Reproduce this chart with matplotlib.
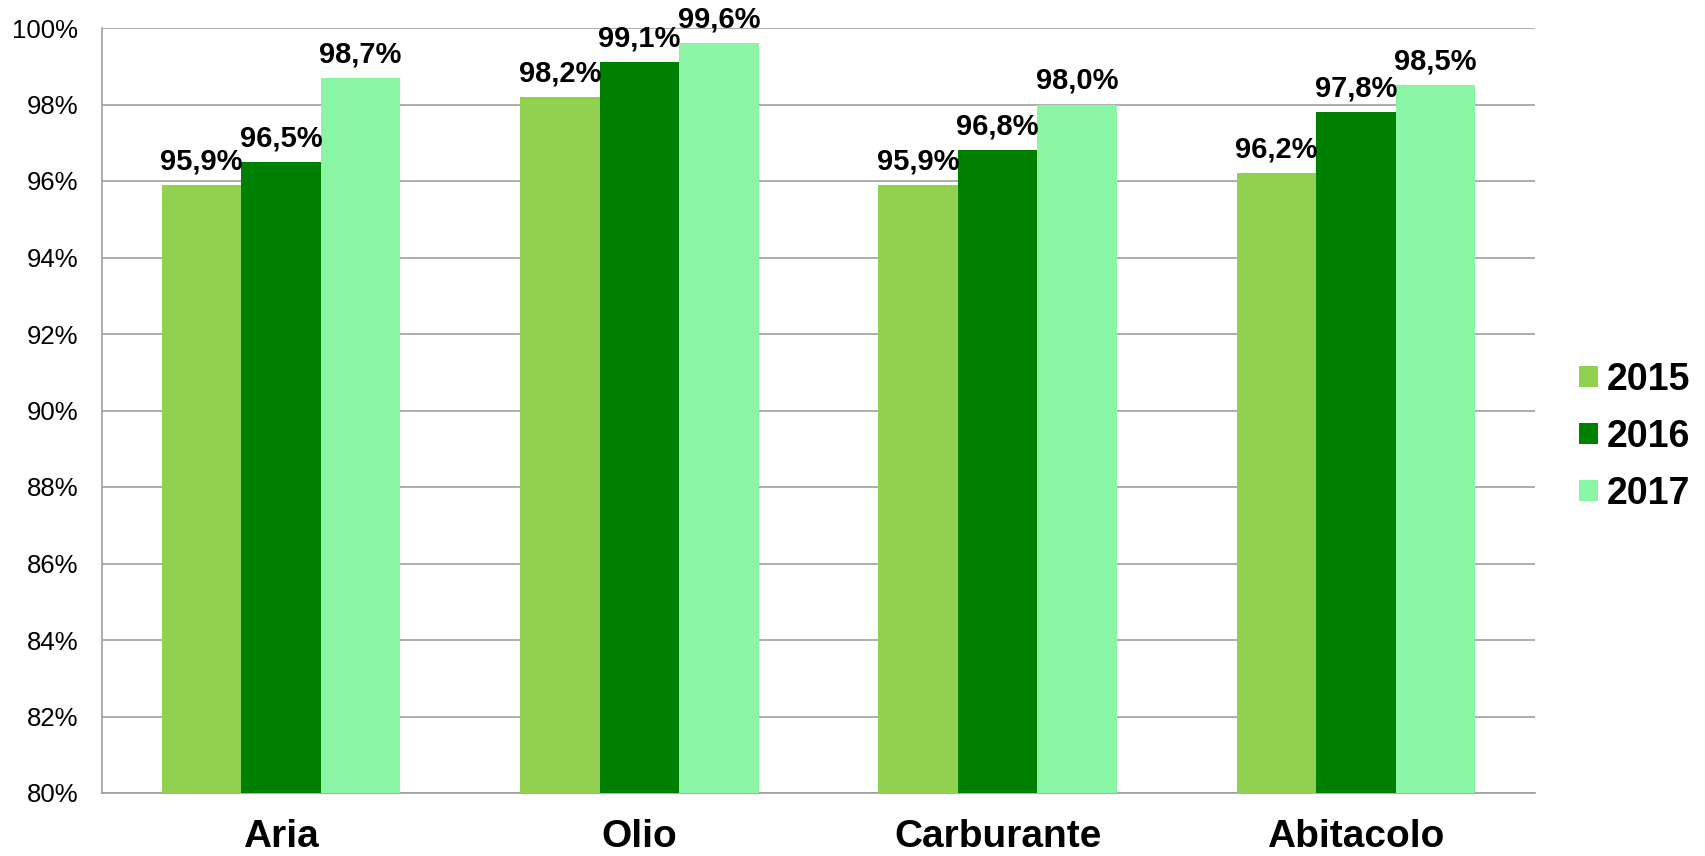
import numpy as np
import matplotlib
matplotlib.use("Agg")
import matplotlib.pyplot as plt
from matplotlib.ticker import FuncFormatter

plt.rcParams['font.family'] = ['Liberation Sans', 'DejaVu Sans']

categories = ['Aria', 'Olio', 'Carburante', 'Abitacolo']
years = ['2015', '2016', '2017']
v2015 = [95.9, 98.2, 95.9, 96.2]
v2016 = [96.5, 99.1, 96.8, 97.8]
v2017 = [98.7, 99.6, 98.0, 98.5]
colors = ['#92D050', '#008000', '#8AF5A5']

fig = plt.figure(figsize=(17.05, 8.56), dpi=100)
ax = fig.add_axes([102 / 1705, 1 - 793 / 856, (1535 - 102) / 1705, (793 - 28) / 856])

x = np.arange(len(categories))
w = 0.222
series = [v2015, v2016, v2017]
for i, vals in enumerate(series):
    pos = x + (i - 1) * w
    bars = ax.bar(pos, vals, w, bottom=0, color=colors[i], label=years[i], zorder=3)
    for b, v in zip(bars, vals):
        ax.annotate(('%.1f%%' % v).replace('.', ','),
                    (b.get_x() + b.get_width() / 2, v),
                    xytext=(0, 7), textcoords='offset points',
                    ha='center', va='bottom', fontsize=21, fontweight='bold', zorder=4)

ax.set_ylim(80, 100)
ax.set_xlim(-0.5, len(categories) - 0.5)
ax.set_yticks(np.arange(80, 101, 2))
ax.yaxis.set_major_formatter(FuncFormatter(lambda v, p: '%d%%' % v))
ax.grid(axis='y', color='#a0a0a0', linewidth=1.2, zorder=0)
for s in ['top', 'right']:
    ax.spines[s].set_visible(False)
for s in ['left', 'bottom']:
    ax.spines[s].set_color('#a0a0a0')
    ax.spines[s].set_linewidth(1.2)
ax.tick_params(axis='y', length=0, pad=17, labelsize=18.5)
ax.tick_params(axis='x', length=0, pad=19, labelsize=28)
ax.set_xticks(x)
ax.set_xticklabels(categories, fontweight='bold')

leg = fig.legend(loc='center left', bbox_to_anchor=(1579 / 1705, 1 - 437 / 856),
                 bbox_transform=fig.transFigure, frameon=False, borderpad=0, borderaxespad=0,
                 prop={'size': 27, 'weight': 'bold'}, handlelength=0.5, handleheight=0.5,
                 handletextpad=0.25, labelspacing=0.56)

fig.savefig('out.png', dpi=100)
